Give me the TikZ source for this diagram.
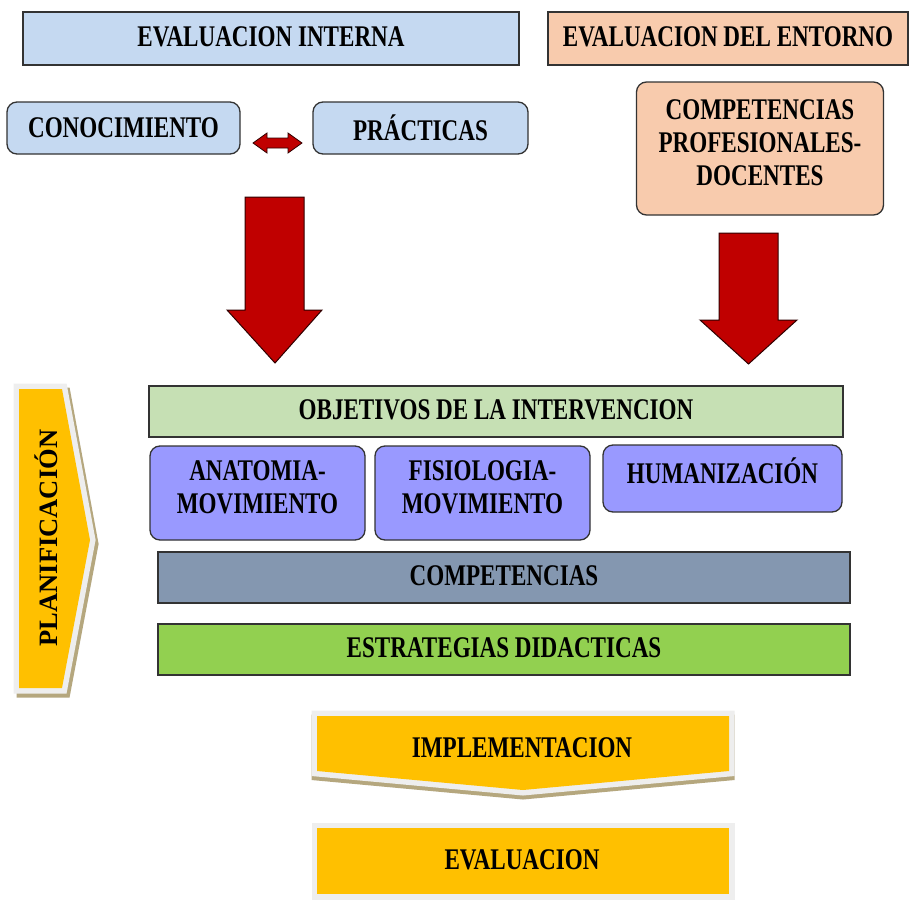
\documentclass[tikz,border=0pt]{standalone}
\usepackage{fontspec}
\setmainfont[FakeStretch=0.77]{Liberation Serif}
\newfontfamily\planfont{Liberation Serif}
\definecolor{lblue}{HTML}{C5D9F1}
\definecolor{peach}{HTML}{F8CBAD}
\definecolor{lgreen}{HTML}{C6E0B4}
\definecolor{violet}{HTML}{9999FF}
\definecolor{steel}{HTML}{8497B0}
\definecolor{grn}{HTML}{92D050}
\definecolor{orng}{HTML}{FFC000}
\definecolor{dred}{HTML}{C00000}
\definecolor{shade}{HTML}{B5A77E}
\definecolor{glow}{HTML}{EEEEEE}
\begin{document}
\begin{tikzpicture}[x=1pt,y=-1pt,
  box/.style={draw=black!80, line width=1.3pt, inner sep=0pt, align=center,
    font=\fontsize{30}{33}\selectfont\bfseries},
  rbox/.style={box, rounded corners=10pt},
  bigarrow/.style={fill=dred, draw=black!75!dred, line width=1pt, line join=miter},
  glowline/.style={draw=glow, line width=11pt, line join=miter},
  shadowline/.style={draw=shade, fill=shade, line width=11pt, line join=miter},
  orfill/.style={fill=orng},
  plain/.style={inner sep=0pt, align=center, font=\fontsize{30}{33}\selectfont\bfseries}]
\useasboundingbox (0,0) rectangle (916,902);
\fill[white] (0,0) rectangle (916,902);

% top boxes
\node[box, fill=lblue, minimum width=496pt, minimum height=53pt] (ei) at (271,38.5) {\raisebox{4pt}{EVALUACION INTERNA}};
\node[box, fill=peach, minimum width=360pt, minimum height=53pt] (ee) at (728,38.5) {\raisebox{4pt}{EVALUACION DEL ENTORNO}};
\node[rbox, fill=lblue, minimum width=233pt, minimum height=52pt] (con) at (123.5,128) {CONOCIMIENTO};
\node[rbox, fill=lblue, minimum width=215pt, minimum height=52pt] (pra) at (420.5,128) {PRÁCTICAS};
\node[rbox, fill=peach, minimum width=247pt, minimum height=133pt,
  label={[plain, yshift=6pt]center:COMPETENCIAS\\PROFESIONALES-\\DOCENTES}] (cpd) at (760,148.5) {};

% double arrow between conocimiento and practicas
\coordinate (da1) at (253,143);
\coordinate (da2) at (302,143);
\draw[bigarrow, line width=0.8pt] (da1) -- ++(14,-10) -- ++(0,5) -- ++(21,0) -- ++(0,-5) -- (da2)
  -- ++(-14,10) -- ++(0,-5) -- ++(-21,0) -- ++(0,5) -- cycle;

% big red arrows
\draw[bigarrow] (245,197) -- (304,197) -- (304,310) -- (322,310) -- (275,363) -- (227,310) -- (245,310) -- cycle;
\draw[bigarrow] (719,233) -- (778,233) -- (778,320) -- (797,320) -- (748.5,364) -- (700,320) -- (719,320) -- cycle;

% planificacion chevron
\draw[shadowline, shift={(3,4)}] (19,389) -- (62,389) -- (90,540) -- (62,688) -- (19,688) -- cycle;
\draw[glowline, fill=glow] (19,389) -- (62,389) -- (90,540) -- (62,688) -- (19,688) -- cycle;
\fill[orfill] (19,389) -- (62,389) -- (90,540) -- (62,688) -- (19,688) -- cycle;
\node[inner sep=0pt, rotate=90, font=\planfont\fontsize{26.5}{30}\selectfont\bfseries] (plan) at (46,538) {PLANIFICACIÓN};

% middle block
\node[box, fill=lgreen, minimum width=694pt, minimum height=51pt] (obj) at (496,411.5) {\raisebox{3pt}{OBJETIVOS DE LA INTERVENCION}};
\node[rbox, fill=violet, minimum width=215pt, minimum height=94pt,
  label={[plain, yshift=6pt]center:ANATOMIA-\\MOVIMIENTO}] (ana) at (257.5,493) {};
\node[rbox, fill=violet, minimum width=215pt, minimum height=94pt,
  label={[plain, yshift=6pt]center:FISIOLOGIA-\\MOVIMIENTO}] (fis) at (482.5,493) {};
\node[rbox, fill=violet, minimum width=239pt, minimum height=67pt,
  label={[plain, yshift=7.5pt]center:HUMANIZACIÓN}] (hum) at (722.5,478.5) {};
\node[box, fill=steel, minimum width=692pt, minimum height=51pt] (comp) at (504,577.5) {\raisebox{3pt}{COMPETENCIAS}};
\node[box, fill=grn, minimum width=692pt, minimum height=51pt] (est) at (504,649.5) {\raisebox{3pt}{ESTRATEGIAS DIDACTICAS}};

% implementacion chevron
\draw[shadowline, shift={(0,4)}] (317,716) -- (729,716) -- (729,771) -- (523,790) -- (317,771) -- cycle;
\draw[glowline, fill=glow] (317,716) -- (729,716) -- (729,771) -- (523,790) -- (317,771) -- cycle;
\fill[orfill] (317,716) -- (729,716) -- (729,771) -- (523,790) -- (317,771) -- cycle;
\node[plain] (imp) at (522,748) {IMPLEMENTACION};

% evaluacion
\draw[glowline, fill=glow] (317,828) rectangle (729,894);
\fill[orfill] (317,828) rectangle (729,894);
\node[plain] (eva) at (522,860) {EVALUACION};
\end{tikzpicture}
\end{document}
